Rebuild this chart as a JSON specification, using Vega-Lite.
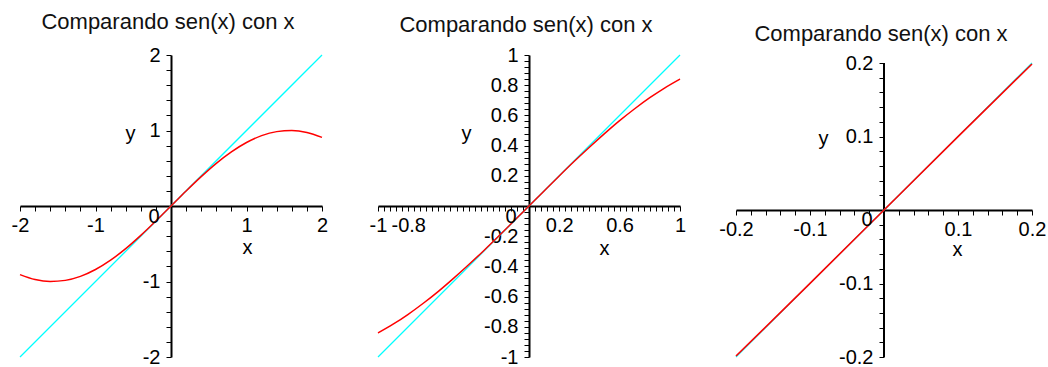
{
  "$schema": "https://vega.github.io/schema/vega-lite/v6.json",
  "background": "white",
  "padding": {"left": 11, "top": 11, "right": 0, "bottom": 0},
  "spacing": 56,
  "bounds": "flush",
  "config": {
    "view": {"stroke": null},
    "axis": {"grid": false, "domainColor": "#000", "domainWidth": 2, "tickColor": "#000", "tickWidth": 1, "tickSize": 5, "labelFont": "Liberation Sans", "labelFontSize": 20, "labelColor": "#000", "labelOverlap": false, "labelFlush": false, "labelBound": false, "titleFont": "Liberation Sans", "titleFontSize": 20, "titleFontWeight": "normal", "titleColor": "#000", "titleAngle": 0, "titleAlign": "center", "titleBaseline": "alphabetic"},
    "axisX": {"labelPadding": 4},
    "axisY": {"labelPadding": 6},
    "title": {"font": "Liberation Sans", "fontSize": 22, "fontWeight": "normal", "color": "#111", "anchor": "middle", "frame": "group", "baseline": "alphabetic", "dx": -3}
  },
  "datasets": {
    "p1x": [{"x": -2, "y": -2}, {"x": 0, "y": 0}, {"x": 2, "y": 2}],
    "p1s": [{"x": -2, "y": -0.909}, {"x": -1.8, "y": -0.974}, {"x": -1.6, "y": -1.0}, {"x": -1.4, "y": -0.985}, {"x": -1.2, "y": -0.932}, {"x": -1, "y": -0.841}, {"x": -0.8, "y": -0.717}, {"x": -0.6, "y": -0.565}, {"x": -0.4, "y": -0.389}, {"x": -0.2, "y": -0.199}, {"x": 0, "y": 0}, {"x": 0.2, "y": 0.199}, {"x": 0.4, "y": 0.389}, {"x": 0.6, "y": 0.565}, {"x": 0.8, "y": 0.717}, {"x": 1, "y": 0.841}, {"x": 1.2, "y": 0.932}, {"x": 1.4, "y": 0.985}, {"x": 1.6, "y": 1.0}, {"x": 1.8, "y": 0.974}, {"x": 2, "y": 0.909}],
    "p2x": [{"x": -1, "y": -1}, {"x": 0, "y": 0}, {"x": 1, "y": 1}],
    "p2s": [{"x": -1, "y": -0.841}, {"x": -0.9, "y": -0.783}, {"x": -0.8, "y": -0.717}, {"x": -0.7, "y": -0.644}, {"x": -0.6, "y": -0.565}, {"x": -0.5, "y": -0.479}, {"x": -0.4, "y": -0.389}, {"x": -0.3, "y": -0.296}, {"x": -0.2, "y": -0.199}, {"x": -0.1, "y": -0.0998}, {"x": 0, "y": 0}, {"x": 0.1, "y": 0.0998}, {"x": 0.2, "y": 0.199}, {"x": 0.3, "y": 0.296}, {"x": 0.4, "y": 0.389}, {"x": 0.5, "y": 0.479}, {"x": 0.6, "y": 0.565}, {"x": 0.7, "y": 0.644}, {"x": 0.8, "y": 0.717}, {"x": 0.9, "y": 0.783}, {"x": 1, "y": 0.841}],
    "p3x": [{"x": -0.2, "y": -0.2}, {"x": 0, "y": 0}, {"x": 0.2, "y": 0.2}],
    "p3s": [{"x": -0.2, "y": -0.1987}, {"x": -0.1, "y": -0.0998}, {"x": 0, "y": 0}, {"x": 0.1, "y": 0.0998}, {"x": 0.2, "y": 0.1987}],
    "o": [{"x": 0, "y": 0, "t": "0"}],
    "r3": [{"x": 0, "y": -0.2, "y2": 0.2}]
  },
  "hconcat": [
    {
      "width": 302, "height": 302,
      "title": {"text": "Comparando sen(x) con x", "offset": 11},
      "encoding": {
        "x": {"field": "x", "type": "quantitative", "scale": {"domain": [-2, 2], "nice": false, "zero": false},
          "axis": {"values": [-2, -1.8, -1.6, -1.4, -1.2, -1, -0.8, -0.6, -0.4, -0.2, 0, 0.2, 0.4, 0.6, 0.8, 1, 1.2, 1.4, 1.6, 1.8, 2], "offset": -151, "labelExpr": "indexof([-2,-1,1,2], datum.value) >= 0 ? '' + datum.value : ''", "title": "x", "titleX": 227, "titleY": 47}},
        "y": {"field": "y", "type": "quantitative", "scale": {"domain": [-2, 2], "nice": false, "zero": false},
          "axis": {"values": [-2, -1.8, -1.6, -1.4, -1.2, -1, -0.8, -0.6, -0.4, -0.2, 0, 0.2, 0.4, 0.6, 0.8, 1, 1.2, 1.4, 1.6, 1.8, 2], "offset": -151, "labelExpr": "indexof([-2,-1,1,2], datum.value) >= 0 ? '' + datum.value : ''", "title": "y", "titleX": -41, "titleY": 84}}
      },
      "layer": [
        {"data": {"name": "p1x"}, "mark": {"type": "line", "color": "#00ffff", "strokeWidth": 1.3}},
        {"data": {"name": "p1s"}, "mark": {"type": "line", "color": "#ff0000", "strokeWidth": 1.5, "interpolate": "monotone"}},
        {"data": {"name": "o"}, "mark": {"type": "text", "dx": -17, "dy": 11, "fontSize": 20, "font": "Liberation Sans", "color": "#000", "align": "center", "baseline": "middle"}, "encoding": {"text": {"field": "t"}}}
      ]
    },
    {
      "width": 302, "height": 302,
      "title": {"text": "Comparando sen(x) con x", "offset": 8},
      "encoding": {
        "x": {"field": "x", "type": "quantitative", "scale": {"domain": [-1, 1], "nice": false, "zero": false},
          "axis": {"values": [-1, -0.96, -0.92, -0.88, -0.84, -0.8, -0.76, -0.72, -0.68, -0.64, -0.6, -0.56, -0.52, -0.48, -0.44, -0.4, -0.36, -0.32, -0.28, -0.24, -0.2, -0.16, -0.12, -0.08, -0.04, 0, 0.04, 0.08, 0.12, 0.16, 0.2, 0.24, 0.28, 0.32, 0.36, 0.4, 0.44, 0.48, 0.52, 0.56, 0.6, 0.64, 0.68, 0.72, 0.76, 0.8, 0.84, 0.88, 0.92, 0.96, 1], "offset": -151, "labelExpr": "indexof([-1,-0.8,0.2,0.6,1], datum.value) >= 0 ? '' + datum.value : ''", "title": "x", "titleX": 226, "titleY": 48}},
        "y": {"field": "y", "type": "quantitative", "scale": {"domain": [-1, 1], "nice": false, "zero": false},
          "axis": {"values": [-1, -0.96, -0.92, -0.88, -0.84, -0.8, -0.76, -0.72, -0.68, -0.64, -0.6, -0.56, -0.52, -0.48, -0.44, -0.4, -0.36, -0.32, -0.28, -0.24, -0.2, -0.16, -0.12, -0.08, -0.04, 0, 0.04, 0.08, 0.12, 0.16, 0.2, 0.24, 0.28, 0.32, 0.36, 0.4, 0.44, 0.48, 0.52, 0.56, 0.6, 0.64, 0.68, 0.72, 0.76, 0.8, 0.84, 0.88, 0.92, 0.96, 1], "offset": -151, "labelExpr": "indexof([-1,-0.8,-0.6,-0.4,-0.2,0.2,0.4,0.6,0.8,1], datum.value) >= 0 ? '' + datum.value : ''", "title": "y", "titleX": -63, "titleY": 84}}
      },
      "layer": [
        {"data": {"name": "p2x"}, "mark": {"type": "line", "color": "#00ffff", "strokeWidth": 1.3}},
        {"data": {"name": "p2s"}, "mark": {"type": "line", "color": "#ff0000", "strokeWidth": 1.5, "interpolate": "monotone"}},
        {"data": {"name": "o"}, "mark": {"type": "text", "dx": -18, "dy": 11, "fontSize": 20, "font": "Liberation Sans", "color": "#000", "align": "center", "baseline": "middle"}, "encoding": {"text": {"field": "t"}}}
      ]
    },
    {
      "width": 296, "height": 302,
      "title": {"text": "Comparando sen(x) con x", "offset": 7},
      "encoding": {
        "x": {"field": "x", "type": "quantitative", "scale": {"domain": [-0.2, 0.2], "nice": false, "zero": false},
          "axis": {"values": [-0.2, -0.18, -0.16, -0.14, -0.12, -0.1, -0.08, -0.06, -0.04, -0.02, 0, 0.02, 0.04, 0.06, 0.08, 0.1, 0.12, 0.14, 0.16, 0.18, 0.2], "offset": -147, "labelExpr": "indexof([-0.2,-0.1,0.1,0.2], datum.value) >= 0 ? '' + datum.value : ''", "title": "x", "titleX": 221, "titleY": 45}},
        "y": {"field": "y", "type": "quantitative", "scale": {"domain": [-0.2, 0.2109], "nice": false, "zero": false},
          "axis": {"values": [-0.2, -0.18, -0.16, -0.14, -0.12, -0.1, -0.08, -0.06, -0.04, -0.02, 0, 0.02, 0.04, 0.06, 0.08, 0.1, 0.12, 0.14, 0.16, 0.18, 0.2], "offset": -148, "domain": false, "labelExpr": "indexof([-0.2,-0.1,0.1,0.2], datum.value) >= 0 ? '' + datum.value : ''", "title": "y", "titleX": -61, "titleY": 89}}
      },
      "layer": [
        {"data": {"name": "r3"}, "mark": {"type": "rule", "color": "#000", "strokeWidth": 2}, "encoding": {"y2": {"field": "y2"}}},
        {"data": {"name": "p3x"}, "mark": {"type": "line", "color": "#00ffff", "strokeWidth": 1.2}},
        {"data": {"name": "p3s"}, "mark": {"type": "line", "color": "#ff0000", "strokeWidth": 1.6}},
        {"data": {"name": "o"}, "mark": {"type": "text", "dx": -17, "dy": 9.5, "fontSize": 20, "font": "Liberation Sans", "color": "#000", "align": "center", "baseline": "middle"}, "encoding": {"text": {"field": "t"}}}
      ]
    }
  ]
}
